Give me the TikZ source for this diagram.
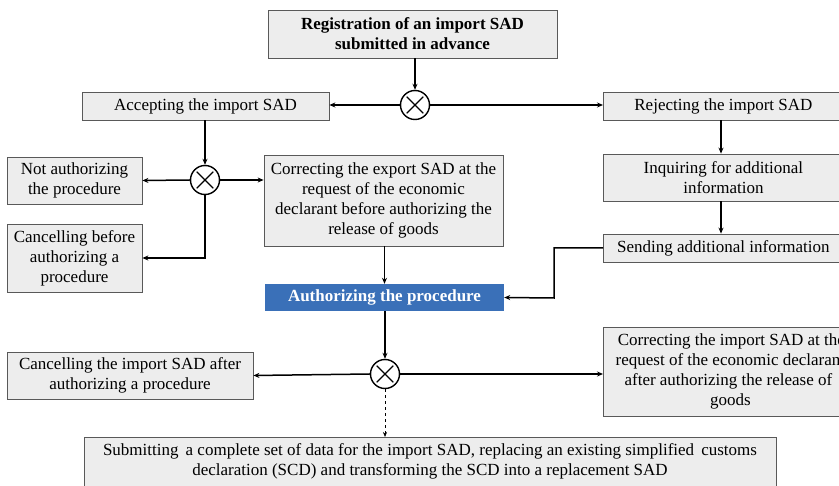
\documentclass[tikz,border=0pt]{standalone}
\usepackage{fontspec}
\setmainfont{Liberation Serif}
\usetikzlibrary{arrows.meta,calc}
\definecolor{authblue}{RGB}{58,112,184}
\begin{document}
\begin{tikzpicture}[x=1pt,y=-1pt,
  box/.style={draw=black!65,fill=black!7,line width=0.8pt,align=center,inner sep=2pt,
    font=\fontsize{17}{20}\selectfont},
  bluebox/.style={fill=authblue,draw=none,align=center,text=white,
    font=\fontsize{17}{20}\selectfont\bfseries},
  xor/.style={circle,draw=black,line width=1.4pt,minimum size=29pt,inner sep=0pt},
  conn/.style={line width=1.5pt,-{Stealth[length=6pt,width=5pt]}},
  dconn/.style={line width=0.6pt,dashed,-{Stealth[length=5pt,width=4pt]}}
]
\useasboundingbox (0,0) rectangle (839,486);
% nodes
\node[box,minimum width=289pt,minimum height=48pt,font=\fontsize{17}{20}\selectfont\bfseries] (reg) at (412.5,34) {Registration of an import SAD\\submitted in advance};
\node[xor] (c1) at (415,105) {};
\node[box,minimum width=247pt,minimum height=28pt] (acc) at (205.5,106) {Accepting the import SAD};
\node[box,minimum width=240pt,minimum height=28pt,anchor=west] (rej) at (603,106) {Rejecting the import SAD};
\node[xor] (c2) at (205,180) {};
\node[box,minimum width=135pt,minimum height=47pt] (nota) at (74.5,180.5) {Not authorizing\\the procedure};
\node[box,minimum width=135pt,minimum height=68pt] (canb) at (74.5,258) {Cancelling before\\authorizing a\\procedure};
\node[box,minimum width=239pt,minimum height=91pt] (corx) at (383.5,200.5) {Correcting the export SAD at the\\request of the economic\\declarant before authorizing the\\release of goods};
\node[box,minimum width=240pt,minimum height=47pt,anchor=west] (inq) at (603,177.5) {Inquiring for additional\\information};
\node[box,minimum width=240pt,minimum height=28pt,anchor=west] (send) at (603,248) {Sending additional information};
\node[bluebox,minimum width=239pt,minimum height=27pt] (auth) at (384.5,297.5) {Authorizing the procedure};
\node[xor] (c3) at (385,374) {};
\node[box,minimum width=246pt,minimum height=47pt] (cana) at (130,375.5) {Cancelling the import SAD after\\authorizing a procedure};
\node[box,minimum width=250pt,minimum height=89pt,anchor=west,align=center] (cori) at (603,371.5) {\hspace*{6pt}Correcting the import SAD at the\\\hspace*{4pt}request of the economic declarant\\after authorizing the release of\\goods\hspace*{-4pt}};
\node[box,minimum width=692pt,minimum height=70pt,anchor=north] (sub) at (430,437) {};
\node[font=\fontsize{17}{20}\selectfont,align=center,anchor=north] (subt) at (430,440) {Submitting\, a complete set of data for the import SAD, replacing an existing simplified\, customs\\declaration (SCD) and transforming the SCD into a replacement SAD};
% crosses
\foreach \c in {c1,c2,c3}{
  \draw[line width=1.3pt,shorten >=3.5pt,shorten <=3.5pt] (\c.45) -- (\c.225);
  \draw[line width=1.3pt,shorten >=3.5pt,shorten <=3.5pt] (\c.135) -- (\c.315);
}
% connectors
\draw[conn] (reg.south -| c1) -- (c1.north);
\draw[conn] (c1.west) -- (c1.west -| acc.east);
\draw[conn] (c1.east) -- (c1.east -| rej.west);
\draw[conn] (acc.south -| c2) -- (c2.north);
\draw[conn] (c2.west) -- (nota.east);
\draw[conn] (c2.east) -- (corx.west |- c2);
\draw[conn] (c2.south) |- (canb.east);
\draw[conn] (corx.south -| auth) -- (auth.north);
\draw[conn] (rej.south -| 721,0) -- (inq.north -| 721,0);
\draw[conn] (inq.south -| 721,0) -- (send.north -| 721,0);
\draw[conn] (send.west) -| (554,298) -- (auth.east);
\draw[conn] (auth.south -| c3) -- (c3.north);
\draw[conn] (c3.west) -- (cana.east);
\draw[conn] (c3.east) -- (cori.west |- c3);
\draw[dconn] (c3.south) -- (sub.north -| c3);
\end{tikzpicture}
\end{document}
